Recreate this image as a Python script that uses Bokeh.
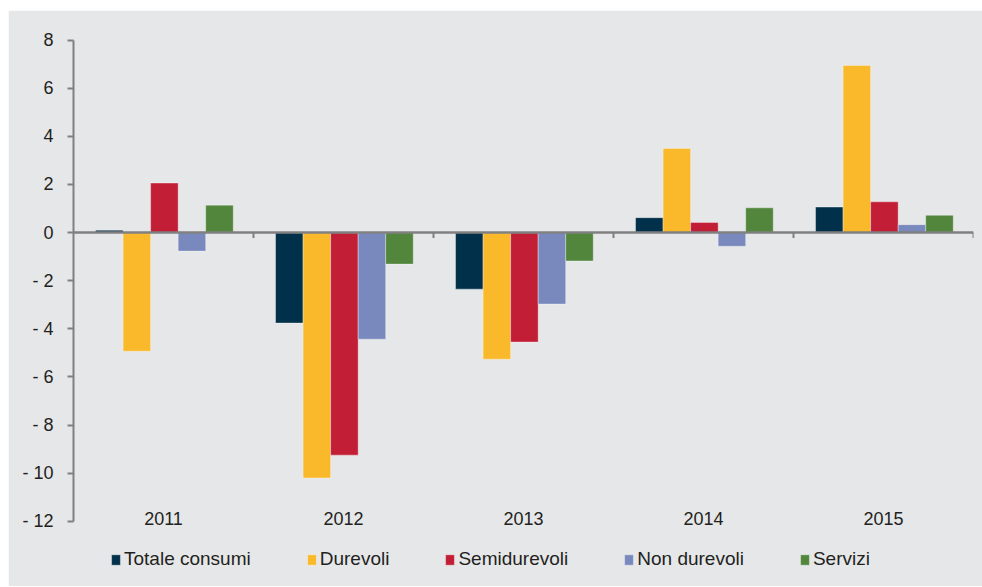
from bokeh.plotting import figure
from bokeh.models import (Range1d, FixedTicker, Span, Legend, LegendItem, ColumnDataSource)
from bokeh.core.properties import value
from bokeh.embed import file_html
from bokeh.resources import INLINE

years = ["2011", "2012", "2013", "2014", "2015"]
series_names = ["Totale consumi", "Durevoli", "Semidurevoli", "Non durevoli", "Servizi"]
totale = [0.1, -3.76, -2.35, 0.62, 1.06]
durevoli = [-4.93, -10.2, -5.26, 3.5, 6.95]
semidurevoli = [2.06, -9.25, -4.55, 0.42, 1.28]
non_durevoli = [-0.77, -4.43, -2.97, -0.57, 0.33]
servizi = [1.14, -1.31, -1.18, 1.03, 0.72]
colors = ["#00304a", "#f9b92b", "#c21f37", "#7a89bd", "#52863c"]
y_ticks = [-12, -10, -8, -6, -4, -2, 0, 2, 4, 6, 8]
y_labels = ["- 12", "- 10", "- 8", "- 6", "- 4", "- 2", "0", "2", "4", "6", "8"]

FONT = "Liberation Sans"
TXT = "#231f20"
GRAY = "#808080"
BG = "#e6e7e9"

p = figure(frame_width=900, frame_height=556, output_backend="svg", toolbar_location=None,
           x_range=Range1d(0, len(years)), y_range=Range1d(-14.71, 8.4),
           x_axis_location=None, background_fill_color=BG, border_fill_color=BG,
           outline_line_color=BG, min_border_left=65, min_border_right=9,
           min_border_top=20, min_border_bottom=0)
p.margin = (10, 0, 0, 8)
p.grid.visible = False

ax = p.yaxis[0]
ax.ticker = FixedTicker(ticks=y_ticks)
ax.major_label_overrides = {t: l for t, l in zip(y_ticks, y_labels)}
ax.bounds = (min(y_ticks), max(y_ticks))
ax.axis_line_color = GRAY
ax.axis_line_width = 2
ax.major_tick_line_color = GRAY
ax.major_tick_line_width = 2
ax.major_tick_out = 6
ax.major_tick_in = 0
ax.minor_tick_line_color = None
ax.major_label_standoff = 14
ax.major_label_text_font = FONT
ax.major_label_text_font_size = "18px"
ax.major_label_text_color = TXT

all_series = [totale, durevoli, semidurevoli, non_durevoli, servizi]
bw = 0.153
items = []
n = len(all_series)
for j, (vals, name, col) in enumerate(zip(all_series, series_names, colors)):
    xs = [i + 0.505 + (j - (n - 1) / 2) * bw for i in range(len(years))]
    src = ColumnDataSource(dict(x=xs, top=vals))
    r = p.vbar(x="x", top="top", bottom=0, width=bw, source=src, fill_color=col,
               line_color="white", line_alpha=0.35, line_width=1)
    items.append(LegendItem(label=name, renderers=[r]))

p.add_layout(Span(location=0, dimension="width", line_color=GRAY, line_width=2.5))
bounds = list(range(1, len(years) + 1))
p.segment(x0=bounds, x1=bounds, y0=[0] * len(bounds), y1=[-0.22] * len(bounds),
          line_color=GRAY, line_width=2)

p.text(x=[i + 0.5 for i in range(len(years))], y=[min(y_ticks)] * len(years), text=years,
       text_font=value(FONT), text_font_size="18px", text_color=TXT,
       text_align="center", text_baseline="middle", y_offset=-3)

legend = Legend(items=items, orientation="horizontal", location=(37, 16),
                background_fill_alpha=0, border_line_color=None,
                label_text_font=FONT, label_text_font_size="19px", label_text_color=TXT,
                glyph_width=11, glyph_height=13, label_standoff=3, spacing=55,
                padding=0, margin=0)
p.add_layout(legend, "center")

open("out.html", "w").write(file_html(p, INLINE))
